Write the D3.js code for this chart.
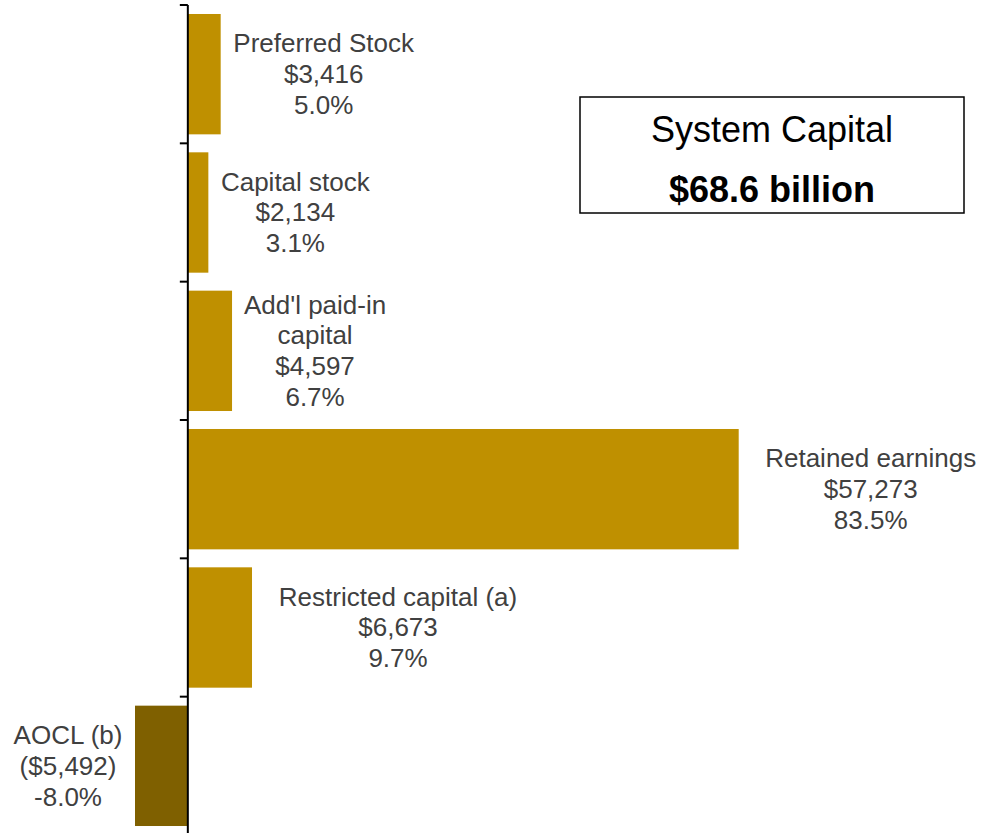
<!DOCTYPE html>
<html>
<head>
<meta charset="utf-8">
<script src="https://cdn.jsdelivr.net/npm/d3@7"></script>
<style>
  body { margin: 0; background: #fff; }
  svg { display: block; }
  text { font-family: "Liberation Sans", Arial, sans-serif; }
</style>
</head>
<body>
<svg id="chart"></svg>
<script>
// categories, one entry per bar (label lines)
const categories = [
  ["Preferred Stock"],
  ["Capital stock"],
  ["Add'l paid-in", "capital"],
  ["Retained earnings"],
  ["Restricted capital (a)"],
  ["AOCL (b)"]
];
// amounts in $ millions
const values = [3416, 2134, 4597, 57273, 6673, -5492];
const valueLabels = ["$3,416", "$2,134", "$4,597", "$57,273", "$6,673", "($5,492)"];
const percentLabels = ["5.0%", "3.1%", "6.7%", "83.5%", "9.7%", "-8.0%"];

const boxTitle = "System Capital";
const boxTotal = "$68.6 billion";

// label offsets from the bar end (layout only)
const labelDx = [103, 87, 83, 132, 146, -67];

const width = 984, height = 833;
const svg = d3.select("#chart").attr("width", width).attr("height", height);

const ids = categories.map((c, i) => i);

const y = d3.scaleBand()
  .domain(ids)
  .range([5, 835])
  .paddingInner(0.13)
  .paddingOuter(0.065);

const x = d3.scaleLinear()
  .domain([d3.min(values), d3.max(values)])
  .range([135, 738.7]);

const gold = "#BF9000";
const darkGold = "#7F6000";

// bars
svg.append("g")
  .selectAll("rect")
  .data(values)
  .join("rect")
    .attr("x", d => x(Math.min(0, d)))
    .attr("y", (d, i) => y(i))
    .attr("width", d => Math.abs(x(d) - x(0)))
    .attr("height", y.bandwidth())
    .attr("fill", d => d < 0 ? darkGold : gold);

// axis line + ticks at band boundaries
const x0 = x(0);
const gap = y.step() * y.paddingInner() / 2;
const axisG = svg.append("g");
axisG.append("line")
  .attr("x1", x0).attr("x2", x0)
  .attr("y1", y.range()[0]).attr("y2", height)
  .attr("stroke", "#000").attr("stroke-width", 2);
axisG.selectAll("line.tick")
  .data(ids)
  .join("line")
    .attr("class", "tick")
    .attr("x1", x0 - 8).attr("x2", x0)
    .attr("y1", i => y(i) - gap)
    .attr("y2", i => y(i) - gap)
    .attr("stroke", "#000").attr("stroke-width", 2);

// data labels
const lineH = 30.8;
const labels = svg.append("g")
  .selectAll("text")
  .data(values)
  .join("text")
    .attr("text-anchor", "middle")
    .attr("font-size", 26)
    .attr("fill", "#404040")
    .attr("transform", (d, i) => {
      const n = categories[i].length + 2;
      const cy = y(i) + y.bandwidth() / 2;
      return `translate(${x(d) + labelDx[i]},${cy - (n - 1) * lineH / 2 + 9})`;
    });

labels.each(function(d, i) {
  const lines = categories[i].concat([valueLabels[i], percentLabels[i]]);
  d3.select(this).selectAll("tspan")
    .data(lines)
    .join("tspan")
      .attr("x", 0)
      .attr("y", (l, j) => j * lineH)
      .text(l => l);
});

// total box
const box = svg.append("g");
box.append("rect")
  .attr("x", 580).attr("y", 97)
  .attr("width", 384).attr("height", 116)
  .attr("fill", "#fff")
  .attr("stroke", "#000").attr("stroke-width", 1.5);
box.append("text")
  .attr("x", 772).attr("y", 142)
  .attr("text-anchor", "middle")
  .attr("font-size", 36)
  .attr("fill", "#000")
  .text(boxTitle);
box.append("text")
  .attr("x", 772).attr("y", 202)
  .attr("text-anchor", "middle")
  .attr("font-size", 36)
  .attr("font-weight", "bold")
  .attr("fill", "#000")
  .text(boxTotal);
</script>
</body>
</html>
